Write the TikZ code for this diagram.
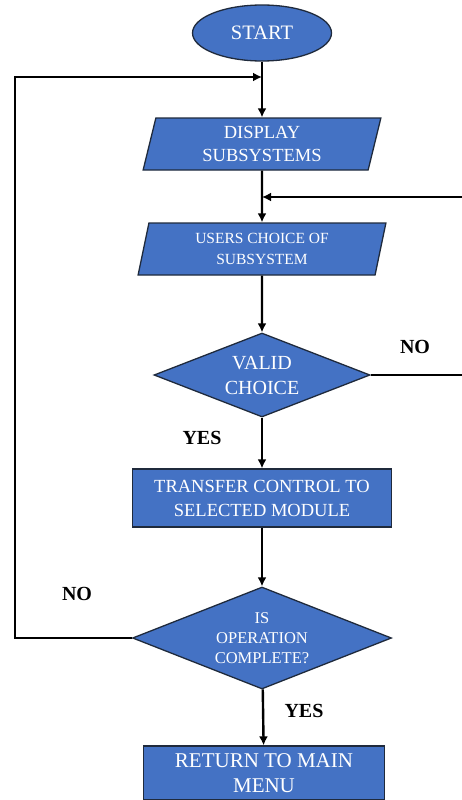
\documentclass[tikz,border=0pt]{standalone}
\usepackage{fontspec}
\setmainfont{Liberation Serif}
\usepackage{xcolor}
\usepackage{tikz}
\usetikzlibrary{shapes.geometric,arrows.meta,positioning,calc}
\definecolor{flowBlue}{HTML}{4472C4}
\definecolor{flowEdge}{HTML}{1F2A3C}

\begin{document}
\begin{tikzpicture}[
    x=1pt, y=-1pt,
    base/.style={draw=flowEdge, fill=flowBlue, line width=1.3pt, text=white, align=center, inner sep=1pt},
    term/.style={base, ellipse, minimum width=139pt, minimum height=56pt},
    io/.style={base, trapezium, trapezium left angle=79, trapezium right angle=101, trapezium stretches=true, minimum height=52pt},
    proc/.style={base, rectangle, minimum height=58pt},
    dec/.style={base, diamond, inner sep=0pt},
    lbl/.style={font=\fontsize{20}{22}\selectfont\bfseries},
    wire/.style={line width=2.4pt, -{Latex[length=9pt,width=9pt]}},
    line/.style={line width=2.4pt}
  ]
    \useasboundingbox (0,0) rectangle (462,800);
    % main column
    \node[term, font=\fontsize{20.5}{22}\selectfont] (start) at (262,33) {START};
    \node[io, minimum width=238pt, font=\fontsize{18.5}{23}\selectfont] (disp) at (262,144) {DISPLAY\\SUBSYSTEMS};
    \node[io, minimum width=248pt, font=\fontsize{15.5}{21}\selectfont] (users) at (262,249) {USERS CHOICE OF\\SUBSYSTEM};
    \node[dec, aspect=2.57, minimum width=216pt, minimum height=84pt, font=\fontsize{20}{25}\selectfont] (valid) at (262,375) {VALID\\CHOICE};
    \node[proc, minimum width=259pt, font=\fontsize{18.5}{24}\selectfont] (xfer) at (262,498) {TRANSFER CONTROL TO\\SELECTED MODULE};
    \node[dec, aspect=2.54, minimum width=259pt, minimum height=102pt, font=\fontsize{16.5}{20}\selectfont] (done) at (262,638) {IS\\OPERATION\\COMPLETE?};
    \node[proc, minimum width=241pt, minimum height=54pt, font=\fontsize{21}{25}\selectfont] (ret) at (264,773) {RETURN TO MAIN\\MENU};

    % branch labels
    \node[lbl] (noA) at (415,347) {NO};
    \node[lbl] (yesA) at (202,438) {YES};
    \node[lbl] (noB) at (77,594) {NO};
    \node[lbl] (yesB) at (304,711) {YES};

    % loose ends
    \coordinate (retin) at (462,197);
    \coordinate (noout) at (462,375);
    \coordinate (lp) at (15,77);
    \coordinate (jtop) at (262,77);

    \draw[wire] (start) -- (disp);
    \draw[wire] (disp) -- (users);
    \draw[wire] (retin) -- (retin -| users);
    \draw[wire] (users) -- (valid);
    \draw[line] (valid.east) -- (noout);
    \draw[wire] (valid) -- (xfer);
    \draw[wire] (xfer) -- (done);
    \draw[wire] (done.west) -| (lp) -- (jtop);
    \draw[wire] (done) -- (ret);
  \end{tikzpicture}
\end{document}
